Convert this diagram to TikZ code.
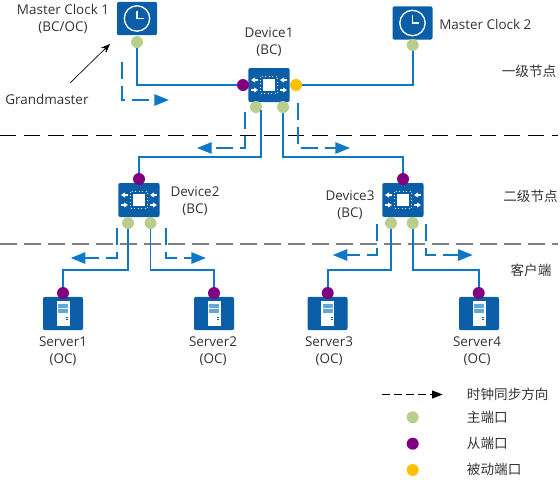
\documentclass[tikz,border=0pt]{standalone}
\usepackage{fontspec}
\setmainfont{Open Sans}
\newfontfamily\cjkfont{Noto Sans CJK SC}
\usetikzlibrary{arrows.meta}
\definecolor{boxblue}{HTML}{0A5EA8}
\definecolor{linkblue}{HTML}{0F78C4}
\definecolor{portgreen}{HTML}{B9CE8C}
\definecolor{portpurple}{HTML}{800080}
\definecolor{portyellow}{HTML}{FFC000}
\definecolor{textgray}{HTML}{333333}
\tikzset{
  iconbox/.style={fill=boxblue,rounded corners=1.5pt,inner sep=0pt},
  devbox/.style={iconbox,minimum width=31pt,minimum height=25.5pt},
  clockbox/.style={iconbox,minimum width=30pt,minimum height=25pt},
  serverbox/.style={iconbox,minimum width=30pt,minimum height=25pt},
  masterport/.style={circle,fill=portgreen,inner sep=0pt,minimum size=9pt},
  slaveport/.style={circle,fill=portpurple,inner sep=0pt,minimum size=9pt},
  passiveport/.style={circle,fill=portyellow,inner sep=0pt,minimum size=9pt},
  link/.style={draw=linkblue,line width=1.4pt},
  syncpath/.style={draw=linkblue,line width=1.4pt,dash pattern=on 13pt off 5pt,-{Triangle[length=11pt,width=8.5pt]}},
  lbl/.style={text=textgray,font=\fontsize{10.1pt}{12.6pt}\selectfont,inner sep=0pt,align=center},
  cjk/.style={text=textgray,font=\fontsize{10.2pt}{12pt}\selectfont\cjkfont,inner sep=0pt}
}
\begin{document}
\begin{tikzpicture}[x=0.75pt,y=-0.75pt]
\useasboundingbox (0,0) rectangle (560,479);

% level separators
\coordinate (sepa) at (0,135);
\coordinate (sepb) at (558,135);
\coordinate (sepc) at (0,244);
\coordinate (sepd) at (558,244);
\draw[black,line width=0.7pt,dash pattern=on 12pt off 6pt] (sepa)--(sepb);
\draw[gray,line width=1.1pt,dash pattern=on 12.5pt off 5.5pt] (sepc)--(sepd);

% boxes
\node[clockbox] (clock1) at (137,18.5) {};
\node[clockbox] (clock2) at (412.5,23) {};
\node[devbox] (dev1) at (269,85) {};
\node[devbox] (dev2) at (139,200) {};
\node[devbox] (dev3) at (403,200) {};
\node[serverbox] (srv1) at (63,313.5) {};
\node[serverbox] (srv2) at (214,313.5) {};
\node[serverbox] (srv3) at (327.5,313.5) {};
\node[serverbox] (srv4) at (479,313.5) {};

\foreach \c in {clock1,clock2}{
\begin{scope}[shift={(\c)}]
\draw[white,line width=1pt] (0,0) circle (12.7);
\draw[white,line width=0.8pt] (0,-8)--(0,0)--(6.5,0);
\end{scope}
}

\foreach \c in {dev1,dev2,dev3}{
\begin{scope}[shift={(\c)}]
\fill[white] (-6,-6) rectangle (6,6);
\draw[white,line width=0.6pt,dotted] (-8.5,-8.5) rectangle (8.5,8.5);
\foreach \x in {-14.5,14.5}{
\draw[white,line width=0.8pt,-{Triangle[length=3pt,width=3.6pt]}] (\x+3.5,-5)--(\x-3.5,-5);
\draw[white,line width=0.8pt,-{Triangle[length=3pt,width=3.6pt]}] (\x-3.5,5)--(\x+3.5,5);
}
\end{scope}
}

\foreach \c in {srv1,srv2,srv3,srv4}{
\begin{scope}[shift={(\c)}]
\fill[white] (-6.5,-13) rectangle (6.5,12.5);
\fill[linkblue!65] (-5,-10) rectangle (5,-6);
\fill[linkblue!65] (-5,-4.5) rectangle (5,-0.5);
\fill[boxblue] (3,3) rectangle (5,4);
\fill[boxblue] (3,5.5) rectangle (5,6.5);
\end{scope}
}

% ports
\node[masterport] (mc1p) at (137,42) {};
\node[masterport] (mc2p) at (412.7,45) {};
\node[slaveport] (d1w) at (243,85) {};
\node[passiveport] (d1e) at (296,85) {};
\node[masterport] (d1l) at (256,107) {};
\node[masterport] (d1r) at (283,107) {};
\node[slaveport] (d2t) at (139,179) {};
\node[masterport] (d2l) at (128,223) {};
\node[masterport] (d2r) at (150.5,223) {};
\node[slaveport] (d3t) at (403,179) {};
\node[masterport] (d3l) at (391,223) {};
\node[masterport] (d3r) at (412.7,223) {};
\node[slaveport] (s1p) at (63,293) {};
\node[slaveport] (s2p) at (214,293) {};
\node[slaveport] (s3p) at (327.7,293) {};
\node[slaveport] (s4p) at (478.7,293) {};

% links
\draw[link] (mc1p.south) |- (d1w.west);
\draw[link] (mc2p.south) |- (d1e.east);
\coordinate (bendl) at (139,157);
\coordinate (bendr) at (403,157);
\draw[link] (d1l.-30) |- (bendl) -- (d2t.north);
\draw[link] (d1r.south) |- (bendr) -- (d3t.north);
\coordinate (bs1) at (63,270);
\coordinate (bs2) at (214,270);
\coordinate (bs3) at (327.7,270);
\coordinate (bs4) at (478.7,270);
\draw[link] (d2l.south) |- (bs1) -- (s1p.north);
\draw[link] (d2r.south) |- (bs2) -- (s2p.north);
\draw[link] (d3l.south) |- (bs3) -- (s3p.north);
\draw[link] (d3r.south) |- (bs4) -- (s4p.north);

% clock sync direction
\draw[syncpath] (122,62)--(122,100)--(169,100);
\draw[syncpath] (245,112)--(245,148)--(197,148);
\draw[syncpath] (297.7,103)--(297.7,148)--(350,148);
\draw[syncpath] (117,228)--(117,258)--(70.7,258);
\draw[syncpath] (165.7,228)--(165.7,258)--(206,258);
\draw[syncpath] (377,224)--(377,255)--(332.7,255);
\draw[syncpath] (425.7,224)--(425.7,255)--(472.7,255);

% labels
\node[lbl] (mc1t) at (63,19) {Master Clock 1\\(BC/OC)};
\node[lbl,anchor=west] (mc2t) at (439,24) {Master Clock 2};
\node[lbl,anchor=west] (gmt) at (5,99) {Grandmaster};
\node[lbl] (d1t) at (269,42.5) {Device1\\(BC)};
\node[lbl] (d2t2) at (195,201.5) {Device2\\(BC)};
\node[lbl] (d3t2) at (350,205.5) {Device3\\(BC)};
\node[lbl] (s1t) at (63,351.5) {Server1\\(OC)};
\node[lbl] (s2t) at (213,351.5) {Server2\\(OC)};
\node[lbl] (s3t) at (329,351.5) {Server3\\(OC)};
\node[lbl] (s4t) at (477,351.5) {Server4\\(OC)};
\node[cjk] (lv1) at (529,71) {一级节点};
\node[cjk] (lv2) at (530.5,196) {二级节点};
\node[cjk] (lv3) at (531,270) {客户端};

\coordinate (gma) at (70,83);
\coordinate (gmb) at (110,44);
\draw[black,line width=0.5pt,-{Stealth[length=7pt,width=5.5pt]}] (gma)--(gmb);

% legend
\coordinate (lga) at (382,394.5);
\coordinate (lgb) at (442.7,394.5);
\draw[black,line width=0.75pt,dash pattern=on 6pt off 3pt,-{Triangle[length=8pt,width=6pt]}] (lga)--(lgb);
\node[masterport] (lg1) at (412.7,417.3) {};
\node[slaveport] (lg2) at (412.7,443.7) {};
\node[passiveport] (lg3) at (412.7,470) {};
\node[cjk,anchor=west] (lgt0) at (466.7,394) {时钟同步方向};
\node[cjk,anchor=west] (lgt1) at (466.7,417) {主端口};
\node[cjk,anchor=west] (lgt2) at (466.7,443) {从端口};
\node[cjk,anchor=west] (lgt3) at (466.7,469) {被动端口};
\end{tikzpicture}
\end{document}
